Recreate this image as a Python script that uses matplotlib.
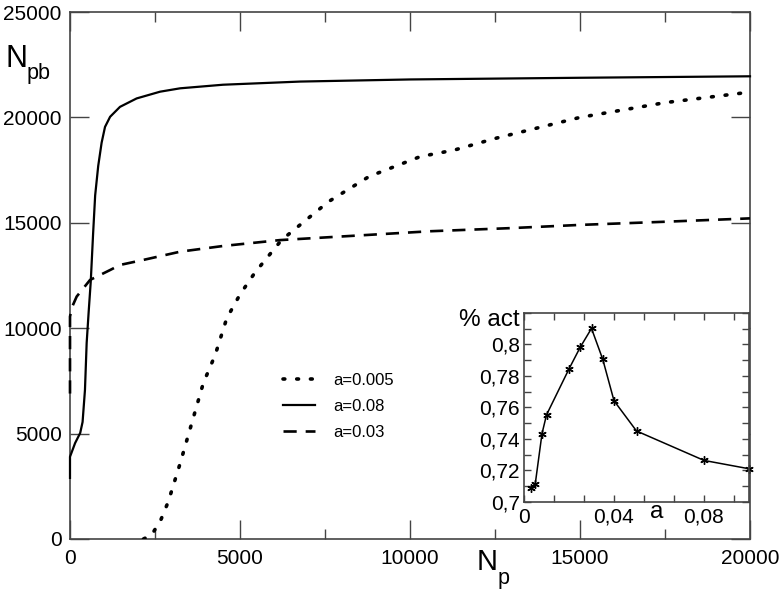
import matplotlib
matplotlib.use("Agg")
import matplotlib.pyplot as plt
from matplotlib.ticker import MultipleLocator, FuncFormatter, FixedLocator
import numpy as np

plt.rcParams['font.family'] = ['Liberation Sans', 'DejaVu Sans']

# ---- main chart data ----
solid_x = [0, 0, 150, 300, 370, 440, 490, 550, 610, 680, 740, 830, 930, 1030, 1180, 1470,
           1960, 2650, 3240, 4500, 6770, 10000, 15000, 20000]
solid_y = [2900, 3900, 4550, 5030, 5550, 7070, 9300, 10800, 12200, 14500, 16300, 17700, 18800,
           19550, 20030, 20500, 20900, 21220, 21380, 21550, 21700, 21800, 21880, 21950]

dash_x = [0, 0, 60, 196, 590, 1180, 1470, 2160, 3240, 4500, 6180, 8500, 10600, 13000, 15000,
          17500, 20000]
dash_y = [6900, 10550, 11000, 11500, 12290, 12760, 13000, 13240, 13630, 13900, 14180, 14400,
          14600, 14750, 14900, 15050, 15210]

dot_x = [2160, 2400, 2670, 2890, 3240, 3580, 3920, 4270, 4610, 5000, 5440, 6220, 7600, 8800,
         10300, 11300, 12500, 15000, 17500, 20000]
dot_y = [0, 190, 900, 1770, 3590, 5490, 7390, 8730, 10470, 11600, 12640, 14180, 16000, 17200,
         18140, 18450, 19000, 20000, 20700, 21200]

# ---- inset data ----
inset_a = [0.003, 0.005, 0.008, 0.010, 0.020, 0.025, 0.030, 0.035, 0.040, 0.050, 0.080, 0.100]
inset_act = [0.709, 0.7115, 0.7434, 0.7553, 0.7845, 0.7983, 0.8102, 0.7906, 0.7643, 0.7451,
             0.7264, 0.7211]
inset_yticks = [0.70, 0.72, 0.74, 0.76, 0.78, 0.80]
inset_xticks = [0.0, 0.04, 0.08]

W, H = 784, 594
fig = plt.figure(figsize=(W / 100, H / 100), dpi=100)

L, R, T, B = 70, 750, 12, 539
ax = fig.add_axes([L / W, 1 - B / H, (R - L) / W, (B - T) / H])

ax.plot(dot_x, dot_y, color='black', lw=2.6, linestyle=(0, (0.5, 3.3)),
        dash_capstyle='round', label='a=0.005', zorder=3)
ax.plot(solid_x, solid_y, color='black', lw=1.6, label='a=0.08', zorder=3, clip_on=False)
ax.plot(dash_x, dash_y, color='black', lw=1.9, linestyle=(0, (5.0, 3.4)), label='a=0.03',
        zorder=3, clip_on=False)

ax.set_xlim(0, 20000)
ax.set_ylim(0, 25000)
ax.xaxis.set_major_locator(MultipleLocator(5000))
ax.xaxis.set_minor_locator(MultipleLocator(2500))
ax.yaxis.set_major_locator(MultipleLocator(5000))
ax.tick_params(which='both', direction='in', top=True, right=True, labelsize=15,
               color='#444444', width=1)
ax.tick_params(which='major', length=14)
ax.tick_params(which='minor', length=7)
ax.tick_params(axis='x', pad=7)
ax.tick_params(axis='y', pad=6)
for s in ax.spines.values():
    s.set_color('#444444')
    s.set_linewidth(1.2)

leg = ax.legend(loc='upper left', bbox_to_anchor=((283 - L) / (R - L), (B - 373) / (B - T)),
                frameon=False, fontsize=12, handlelength=1.9, handletextpad=1.1,
                borderpad=0, borderaxespad=0, labelspacing=0.65)

# axis labels
fig.text(5 / W, 1 - 67 / H, 'N', fontsize=22, va='baseline', ha='left')
fig.text(27 / W, 1 - 79 / H, 'pb', fontsize=15.5, va='baseline', ha='left')
fig.text(477 / W, 1 - 570 / H, 'N', fontsize=21, va='baseline', ha='left')
fig.text(498 / W, 1 - 584 / H, 'p', fontsize=15.5, va='baseline', ha='left')

# ---- inset ----
iL, iR, iT, iB = 524, 749, 313, 502
ax2 = fig.add_axes([iL / W, 1 - iB / H, (iR - iL) / W, (iB - iT) / H])
ax2.set_facecolor('white')
ax2.plot(inset_a, inset_act, color='black', lw=1.1, marker=(6, 2, 0), markersize=6,
         markeredgewidth=1.0, clip_on=False)
ax2.set_xlim(0, 0.1)
ax2.set_ylim(0.7, 0.82)
ax2.xaxis.set_major_locator(FixedLocator(inset_xticks))
ax2.xaxis.set_minor_locator(MultipleLocator(0.04 / 3))
ax2.yaxis.set_major_locator(FixedLocator(inset_yticks))
ax2.yaxis.set_minor_locator(MultipleLocator(0.01))


def comma_fmt(v, pos):
    s = ('%.2f' % v).rstrip('0').rstrip('.')
    if s == '':
        s = '0'
    return s.replace('.', ',')


ax2.xaxis.set_major_formatter(FuncFormatter(comma_fmt))
ax2.yaxis.set_major_formatter(FuncFormatter(comma_fmt))
ax2.tick_params(which='both', direction='in', top=True, right=True, labelsize=15,
                color='#444444', width=1, length=5)
ax2.tick_params(axis='x', pad=4)
ax2.tick_params(axis='y', pad=3)
for s in ax2.spines.values():
    s.set_color('#444444')
    s.set_linewidth(1.2)

fig.text(520 / W, 1 - 326 / H, '% act', fontsize=17.5, va='baseline', ha='right')
fig.text(656.5 / W, 1 - 518 / H, 'a', fontsize=17.5, va='baseline', ha='center')

fig.savefig('out.png', dpi=100)
